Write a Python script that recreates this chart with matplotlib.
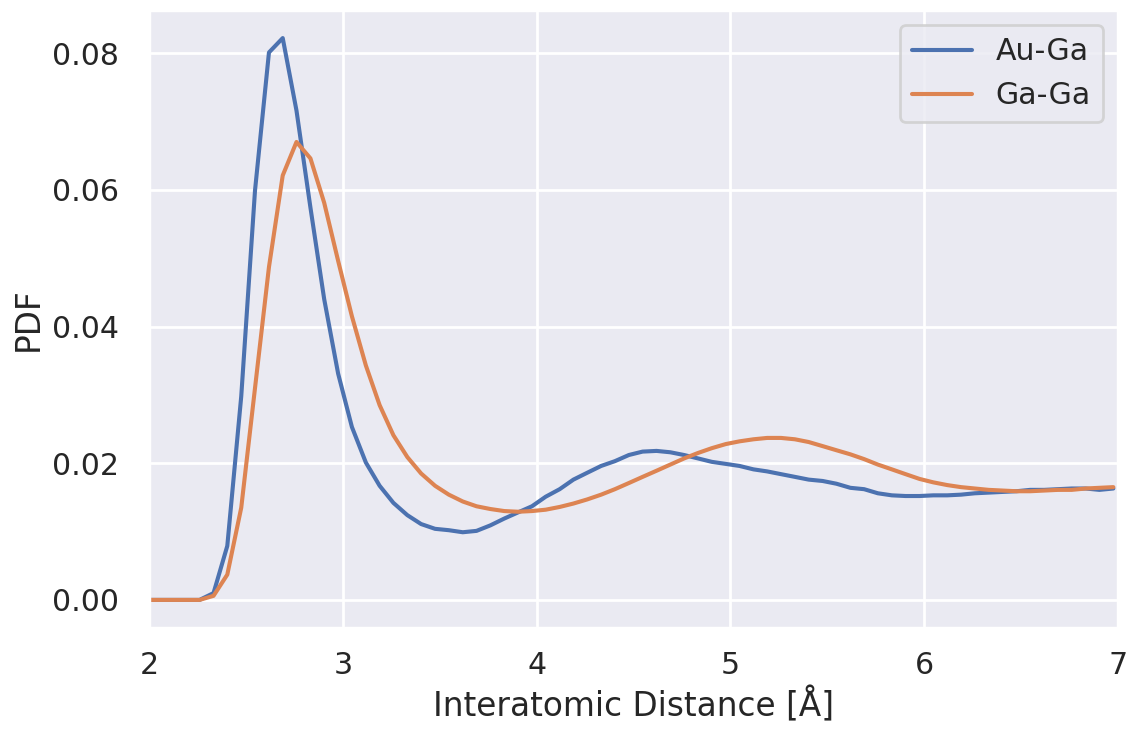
import numpy as np
import matplotlib
matplotlib.use("Agg")
import matplotlib.pyplot as plt
import seaborn as sns

# grid of interatomic distances (Å)
distance = [1.976, 2.047, 2.119, 2.190, 2.261, 2.333, 2.404, 2.476, 2.547, 2.619,
            2.690, 2.761, 2.833, 2.904, 2.976, 3.047, 3.119, 3.190, 3.261, 3.333,
            3.404, 3.476, 3.547, 3.619, 3.690, 3.761, 3.833, 3.904, 3.976, 4.047,
            4.119, 4.190, 4.261, 4.333, 4.404, 4.476, 4.547, 4.619, 4.690, 4.761,
            4.833, 4.904, 4.976, 5.047, 5.119, 5.190, 5.261, 5.333, 5.404, 5.476,
            5.547, 5.619, 5.690, 5.761, 5.833, 5.904, 5.976, 6.047, 6.119, 6.190,
            6.261, 6.333, 6.404, 6.476, 6.547, 6.619, 6.690, 6.761, 6.833, 6.904,
            6.976]

au_ga = [0.0, 0.0, 0.0, 0.0, 0.0, 0.0010, 0.0079, 0.0298, 0.0599, 0.0801,
         0.0822, 0.0716, 0.0574, 0.0440, 0.0331, 0.0253, 0.0201, 0.0167, 0.0142, 0.0124,
         0.0111, 0.0104, 0.0102, 0.0099, 0.0101, 0.0109, 0.0119, 0.0128, 0.0137, 0.0151,
         0.0162, 0.0176, 0.0186, 0.0196, 0.0203, 0.0212, 0.0217, 0.0218, 0.0216, 0.0212,
         0.0207, 0.0202, 0.0199, 0.0196, 0.0191, 0.0188, 0.0184, 0.0180, 0.0176, 0.0174,
         0.0170, 0.0164, 0.0162, 0.0156, 0.0153, 0.0152, 0.0152, 0.0153, 0.0153, 0.0154,
         0.0156, 0.0157, 0.0158, 0.0159, 0.0161, 0.0161, 0.0162, 0.0163, 0.0163, 0.0161,
         0.0163]

ga_ga = [0.0, 0.0, 0.0, 0.0, 0.0, 0.0006, 0.0037, 0.0135, 0.0310, 0.0487,
         0.0621, 0.0670, 0.0646, 0.0581, 0.0496, 0.0415, 0.0343, 0.0285, 0.0241, 0.0209,
         0.0185, 0.0167, 0.0154, 0.0144, 0.0137, 0.0133, 0.0130, 0.0129, 0.0130, 0.0132,
         0.0136, 0.0141, 0.0147, 0.0154, 0.0162, 0.0171, 0.0180, 0.0189, 0.0198, 0.0207,
         0.0215, 0.0222, 0.0228, 0.0232, 0.0235, 0.0237, 0.0237, 0.0235, 0.0231, 0.0225,
         0.0219, 0.0213, 0.0206, 0.0198, 0.0191, 0.0184, 0.0177, 0.0172, 0.0168, 0.0165,
         0.0163, 0.0161, 0.0160, 0.0159, 0.0159, 0.0160, 0.0161, 0.0161, 0.0163, 0.0164,
         0.0165]

series_labels = ["Au-Ga", "Ga-Ga"]

sns.set_theme(context="talk", style="darkgrid")

DPI = 131
fig = plt.figure(figsize=(1132 / DPI, 735 / DPI), dpi=DPI)
ax = fig.add_axes([149 / 1132, 1 - 628 / 735, (1118 - 149) / 1132, (628 - 10) / 735])

ax.plot(distance, au_ga, label=series_labels[0])
ax.plot(distance, ga_ga, label=series_labels[1])

ax.set_xlim(2, 7)
ax.tick_params(axis="y", pad=7.5)
ax.set_xlabel("Interatomic Distance [Å]")
ax.set_ylabel("PDF")
ax.legend(loc="upper right")

fig.savefig("out.png", dpi=DPI)
